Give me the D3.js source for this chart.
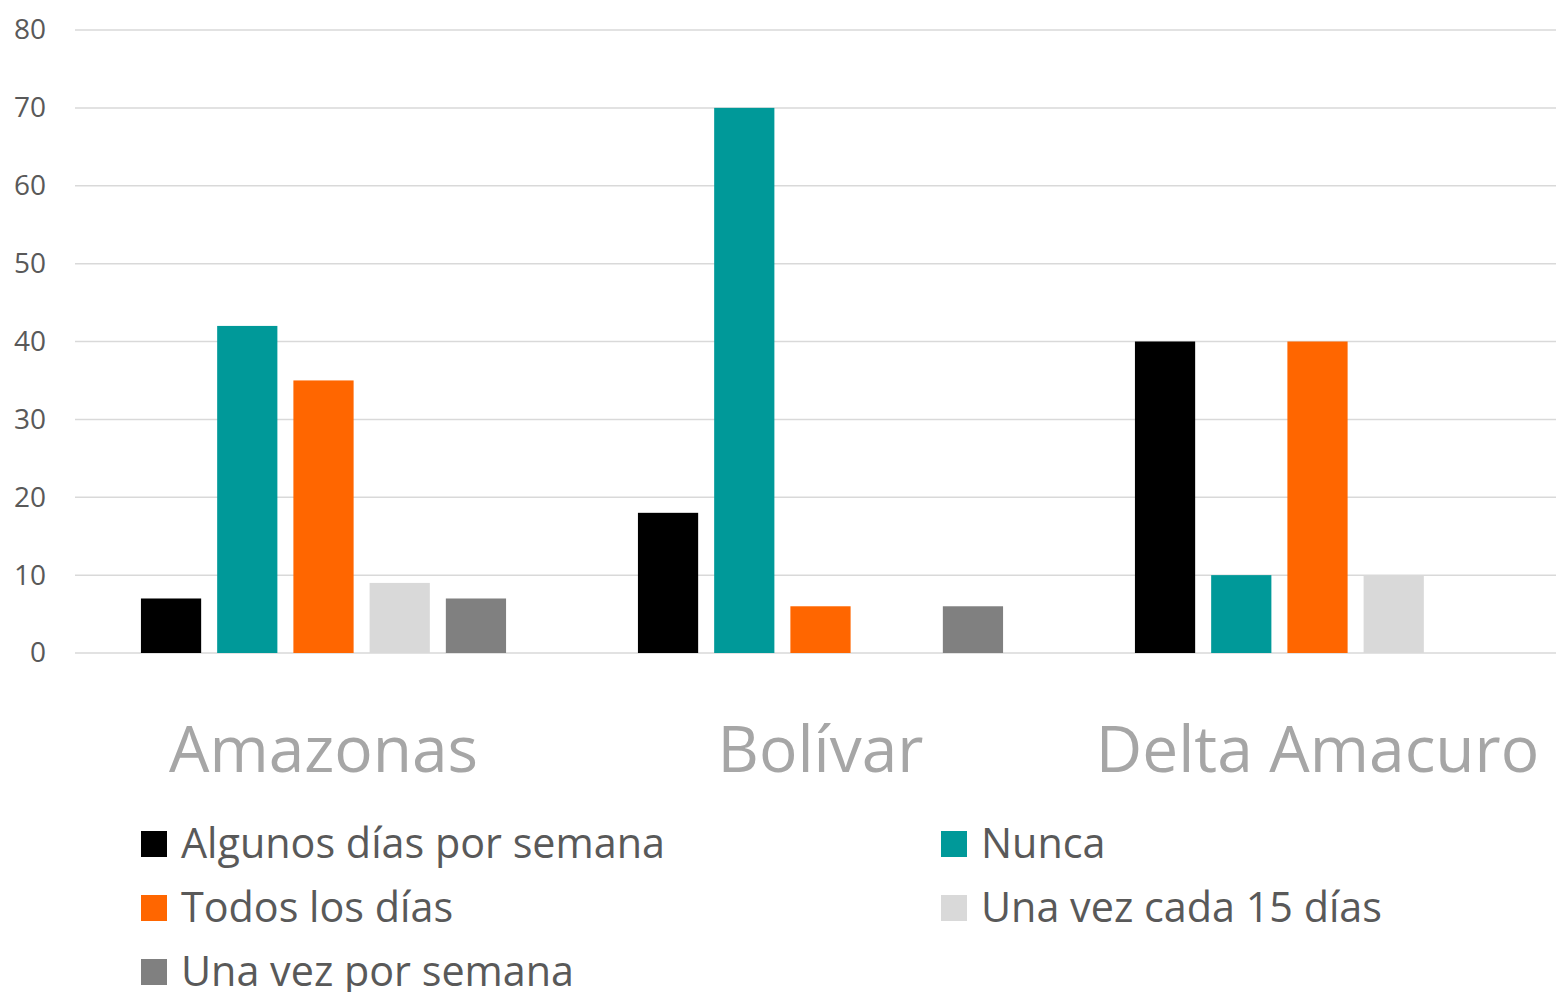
<!DOCTYPE html>
<html>
<head>
<meta charset="utf-8">
<script src="https://cdn.jsdelivr.net/npm/d3@7"></script>
<style>
  html, body { margin: 0; padding: 0; background: #fff; }
  svg { display: block; font-family: "Open Sans", "Noto Sans", sans-serif; }
</style>
</head>
<body>
<svg id="chart" width="1556" height="992"></svg>
<script>
// data
const categories = ["Amazonas", "Bolívar", "Delta Amacuro"];
const seriesNames = ["Algunos días por semana", "Nunca", "Todos los días", "Una vez cada 15 días", "Una vez por semana"];
const seriesColors = ["#000000", "#009999", "#ff6600", "#d9d9d9", "#808080"];
const algunosDias = [7, 18, 40];
const nunca       = [42, 70, 10];
const todosDias   = [35, 6, 40];
const cada15      = [9, 0, 10];
const porSemana   = [7, 6, 0];
const yTicks = [0, 10, 20, 30, 40, 50, 60, 70, 80];

const seriesValues = [algunosDias, nunca, todosDias, cada15, porSemana];

const svg = d3.select("#chart");
// plot area runs a little past the right edge of the picture
const PLOT_L = 75, PLOT_R = 1566, PLOT_T = 30, PLOT_B = 653;

const y = d3.scaleLinear().domain([0, 80]).range([PLOT_B, PLOT_T]);
const x0 = d3.scaleBand().domain(categories).range([PLOT_L, PLOT_R]);
const x1 = d3.scaleBand().domain(seriesNames)
  .range([0, x0.bandwidth()])
  .paddingInner(0.21)
  .paddingOuter(0.865);

// gridlines
svg.append("g").selectAll("line")
  .data(yTicks)
  .enter().append("line")
    .attr("x1", PLOT_L).attr("x2", PLOT_R)
    .attr("y1", d => y(d)).attr("y2", d => y(d))
    .attr("stroke", "#d9d9d9")
    .attr("stroke-width", 1.5);

// y axis labels
const yAxis = svg.append("g")
  .attr("transform", `translate(46,0)`)
  .call(d3.axisLeft(y).tickValues(yTicks).tickSize(0).tickPadding(0));
yAxis.select(".domain").remove();
yAxis.selectAll("text")
  .attr("fill", "#595959")
  .attr("font-size", 28)
  .attr("font-family", "\"Open Sans\", sans-serif");

// bars
const groups = svg.append("g").selectAll("g")
  .data(categories)
  .enter().append("g")
    .attr("transform", d => `translate(${x0(d)},0)`);

groups.selectAll("rect")
  .data((c, ci) => seriesNames.map((s, si) => ({ s, v: seriesValues[si][ci], color: seriesColors[si] })))
  .enter().append("rect")
    .filter(d => d.v > 0)
    .attr("x", d => x1(d.s))
    .attr("width", x1.bandwidth())
    .attr("y", d => y(d.v))
    .attr("height", d => y(0) - y(d.v))
    .attr("fill", d => d.color);

// category labels
const xAxis = svg.append("g")
  .attr("transform", `translate(0,${PLOT_B})`)
  .call(d3.axisBottom(x0).tickSize(0).tickPadding(0));
xAxis.select(".domain").remove();
xAxis.selectAll("text")
  .attr("dy", null)
  .attr("y", 119)
  .attr("fill", "#a6a6a6")
  .attr("font-size", 64)
  .attr("font-family", "\"Open Sans\", sans-serif");

// legend
const legendCols = [141, 941];
const legendRows = [844, 908, 972];
const legend = svg.append("g").selectAll("g")
  .data(seriesNames)
  .enter().append("g")
    .attr("transform", (d, i) => `translate(${legendCols[i % 2]},${legendRows[Math.floor(i / 2)]})`);

legend.append("rect")
  .attr("x", 0).attr("y", -13)
  .attr("width", 26).attr("height", 26)
  .attr("fill", (d, i) => seriesColors[i]);

legend.append("text")
  .attr("x", 40)
  .attr("y", 14)
  .attr("fill", "#595959")
  .attr("font-size", 41.3)
  .text(d => d);
</script>
</body>
</html>
